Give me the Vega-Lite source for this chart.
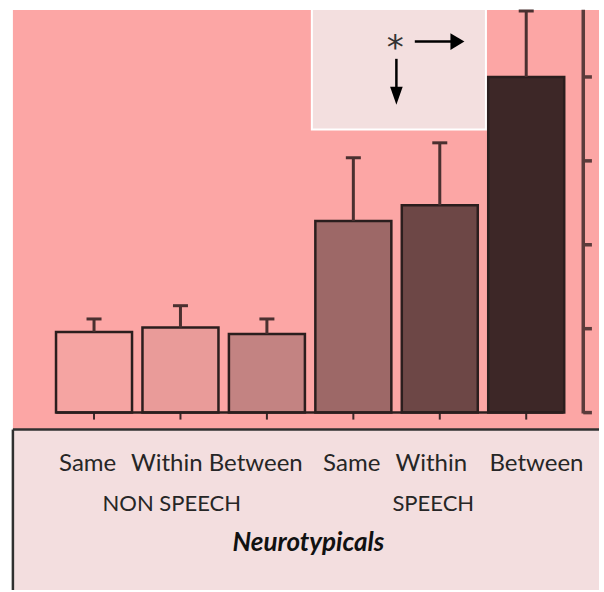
{
  "$schema": "https://vega.github.io/schema/vega-lite/v6.json",
  "width": 604,
  "height": 592,
  "autosize": {"type": "fit", "contains": "padding"},
  "padding": 0,
  "background": "white",
  "view": {"stroke": null},
  "config": {"font": "Lato"},
  "resolve": {"scale": {"fill": "independent", "stroke": "independent"}},
  "datasets": {
    "bars": [
      {"group": "NON SPEECH", "cond": "Same", "id": "NS-Same", "pos": 1, "mean": 0.962, "upper": 1.116},
      {"group": "NON SPEECH", "cond": "Within", "id": "NS-Within", "pos": 2, "mean": 1.013, "upper": 1.274},
      {"group": "NON SPEECH", "cond": "Between", "id": "NS-Between", "pos": 3, "mean": 0.938, "upper": 1.116},
      {"group": "SPEECH", "cond": "Same", "id": "S-Same", "pos": 4, "mean": 2.284, "upper": 3.037},
      {"group": "SPEECH", "cond": "Within", "id": "S-Within", "pos": 5, "mean": 2.47, "upper": 3.215},
      {"group": "SPEECH", "cond": "Between", "id": "S-Between", "pos": 6, "mean": 3.999, "upper": 4.786}
    ],
    "labels": [
      {"text": "Same", "level": "cond", "x": 0.926, "y": -0.701},
      {"text": "Within", "level": "cond", "x": 1.842, "y": -0.701},
      {"text": "Between", "level": "cond", "x": 2.871, "y": -0.701},
      {"text": "Same", "level": "cond", "x": 3.981, "y": -0.701},
      {"text": "Within", "level": "cond", "x": 4.902, "y": -0.701},
      {"text": "Between", "level": "cond", "x": 6.119, "y": -0.701},
      {"text": "NON SPEECH", "level": "group", "x": 1.899, "y": -1.176},
      {"text": "SPEECH", "level": "group", "x": 4.925, "y": -1.176},
      {"text": "Neurotypicals", "level": "title", "x": 3.48, "y": -1.651}
    ],
    "panels": [
      {"part": "plot", "x": 0.0614, "x2": 6.842, "y": -0.202, "y2": 4.798},
      {"part": "labels", "x": 0.0614, "x2": 6.842, "y": -2.114, "y2": -0.202},
      {"part": "inset", "x": 3.52, "x2": 5.534, "y": 3.373, "y2": 4.81}
    ],
    "frame": [
      {"part": "border", "x": 0.0614, "x2": 6.842, "y": -0.202, "y2": -0.202},
      {"part": "border", "x": 0.0614, "x2": 0.0614, "y": -0.202, "y2": -2.114},
      {"part": "axis", "x": 6.66, "x2": 6.66, "y": -0.01, "y2": 4.8},
      {"part": "axis", "x": 6.66, "x2": 6.76, "y": 0, "y2": 0},
      {"part": "axis", "x": 6.66, "x2": 6.76, "y": 1, "y2": 1},
      {"part": "axis", "x": 6.66, "x2": 6.76, "y": 2, "y2": 2},
      {"part": "axis", "x": 6.66, "x2": 6.76, "y": 3, "y2": 3},
      {"part": "axis", "x": 6.66, "x2": 6.76, "y": 4, "y2": 4},
      {"part": "baseline", "x": 0.562, "x2": 6.432, "y": 0, "y2": 0}
    ],
    "arrows": [
      {"dir": "right", "x": 4.711, "x2": 5.17, "y": 4.422, "y2": 4.422},
      {"dir": "down", "x": 4.498, "x2": 4.498, "y": 4.216, "y2": 3.741}
    ],
    "heads": [
      {"dir": "right", "x": 5.204, "y": 4.422},
      {"dir": "down", "x": 4.498, "y": 3.777}
    ],
    "star": [{"text": "*", "x": 4.484, "y": 4.216}]
  },
  "layer": [
    {
      "data": {"name": "panels"},
      "mark": {"type": "rect"},
      "encoding": {
        "x": {"field": "x", "type": "quantitative", "scale": {"domain": [-0.03, 6.842], "nice": false, "zero": false}, "axis": null},
        "x2": {"field": "x2"},
        "y": {"field": "y", "type": "quantitative", "scale": {"domain": [-2.114, 4.917], "nice": false, "zero": false}, "axis": null},
        "y2": {"field": "y2"},
        "fill": {"field": "part", "type": "nominal", "scale": {"domain": ["plot", "labels", "inset"], "range": ["#fca6a5", "#f3dedf", "#f3dfdf"]}, "legend": null},
        "stroke": {"condition": {"test": "datum.part === 'inset'", "value": "#ffffff"}, "value": null},
        "strokeWidth": {"value": 2}
      }
    },
    {
      "data": {"name": "frame"},
      "transform": [{"filter": "datum.part === 'border'"}],
      "mark": {"type": "rule", "stroke": "#303030", "strokeWidth": 2.5},
      "encoding": {
        "x": {"field": "x", "type": "quantitative", "scale": {"domain": [-0.03, 6.842], "nice": false, "zero": false}, "axis": null},
        "x2": {"field": "x2"},
        "y": {"field": "y", "type": "quantitative", "scale": {"domain": [-2.114, 4.917], "nice": false, "zero": false}, "axis": null},
        "y2": {"field": "y2"}
      }
    },
    {
      "data": {"name": "frame"},
      "transform": [{"filter": "datum.part === 'axis'"}],
      "mark": {"type": "rule", "stroke": "#5b3b3b", "strokeWidth": 3.5},
      "encoding": {
        "x": {"field": "x", "type": "quantitative", "scale": {"domain": [-0.03, 6.842], "nice": false, "zero": false}, "axis": null},
        "x2": {"field": "x2"},
        "y": {"field": "y", "type": "quantitative", "scale": {"domain": [-2.114, 4.917], "nice": false, "zero": false}, "axis": null},
        "y2": {"field": "y2"}
      }
    },
    {
      "data": {"name": "bars"},
      "mark": {"type": "rule", "stroke": "#3a2828", "strokeWidth": 2},
      "encoding": {
        "x": {"field": "pos", "type": "quantitative", "scale": {"domain": [-0.03, 6.842], "nice": false, "zero": false}, "axis": null},
        "y": {"datum": 0, "type": "quantitative", "scale": {"domain": [-2.114, 4.917], "nice": false, "zero": false}, "axis": null},
        "y2": {"datum": -0.083}
      }
    },
    {
      "data": {"name": "bars"},
      "mark": {"type": "bar", "width": 76, "stroke": "#2b1e1e", "strokeWidth": 2.5},
      "encoding": {
        "x": {"field": "pos", "type": "quantitative", "scale": {"domain": [-0.03, 6.842], "nice": false, "zero": false}, "axis": null},
        "y": {"field": "mean", "type": "quantitative", "scale": {"domain": [-2.114, 4.917], "nice": false, "zero": false}, "axis": null},
        "y2": {"datum": 0},
        "fill": {"field": "id", "type": "nominal", "scale": {"domain": ["NS-Same", "NS-Within", "NS-Between", "S-Same", "S-Within", "S-Between"], "range": ["#f5a4a2", "#e99b99", "#c38382", "#9d6867", "#6d4746", "#3d2727"]}, "legend": null}
      }
    },
    {
      "data": {"name": "frame"},
      "transform": [{"filter": "datum.part === 'baseline'"}],
      "mark": {"type": "rule", "stroke": "#2b1e1e", "strokeWidth": 2.5},
      "encoding": {
        "x": {"field": "x", "type": "quantitative", "scale": {"domain": [-0.03, 6.842], "nice": false, "zero": false}, "axis": null},
        "x2": {"field": "x2"},
        "y": {"field": "y", "type": "quantitative", "scale": {"domain": [-2.114, 4.917], "nice": false, "zero": false}, "axis": null}
      }
    },
    {
      "data": {"name": "bars"},
      "mark": {"type": "rule", "stroke": "#4a3030", "strokeWidth": 3},
      "encoding": {
        "x": {"field": "pos", "type": "quantitative", "scale": {"domain": [-0.03, 6.842], "nice": false, "zero": false}, "axis": null},
        "y": {"field": "mean", "type": "quantitative", "scale": {"domain": [-2.114, 4.917], "nice": false, "zero": false}, "axis": null},
        "y2": {"field": "upper"}
      }
    },
    {
      "data": {"name": "bars"},
      "mark": {"type": "tick", "orient": "horizontal", "size": 15, "thickness": 3, "color": "#4a3030", "opacity": 1},
      "encoding": {
        "x": {"field": "pos", "type": "quantitative", "scale": {"domain": [-0.03, 6.842], "nice": false, "zero": false}, "axis": null},
        "y": {"field": "upper", "type": "quantitative", "scale": {"domain": [-2.114, 4.917], "nice": false, "zero": false}, "axis": null}
      }
    },
    {
      "data": {"name": "arrows"},
      "mark": {"type": "rule", "stroke": "#000000", "strokeWidth": 2.5},
      "encoding": {
        "x": {"field": "x", "type": "quantitative", "scale": {"domain": [-0.03, 6.842], "nice": false, "zero": false}, "axis": null},
        "x2": {"field": "x2"},
        "y": {"field": "y", "type": "quantitative", "scale": {"domain": [-2.114, 4.917], "nice": false, "zero": false}, "axis": null},
        "y2": {"field": "y2"}
      }
    },
    {
      "data": {"name": "heads"},
      "transform": [{"filter": "datum.dir === 'right'"}],
      "mark": {"type": "point", "shape": "M-1,-1.2L1,0L-1,1.2Z", "size": 196, "filled": true, "color": "#000000", "opacity": 1},
      "encoding": {
        "x": {"field": "x", "type": "quantitative", "scale": {"domain": [-0.03, 6.842], "nice": false, "zero": false}, "axis": null},
        "y": {"field": "y", "type": "quantitative", "scale": {"domain": [-2.114, 4.917], "nice": false, "zero": false}, "axis": null}
      }
    },
    {
      "data": {"name": "heads"},
      "transform": [{"filter": "datum.dir === 'down'"}],
      "mark": {"type": "point", "shape": "M-0.7,-1L0.7,-1L0,1Z", "size": 324, "filled": true, "color": "#000000", "opacity": 1},
      "encoding": {
        "x": {"field": "x", "type": "quantitative", "scale": {"domain": [-0.03, 6.842], "nice": false, "zero": false}, "axis": null},
        "y": {"field": "y", "type": "quantitative", "scale": {"domain": [-2.114, 4.917], "nice": false, "zero": false}, "axis": null}
      }
    },
    {
      "data": {"name": "star"},
      "mark": {"type": "text", "font": "DejaVu Sans", "fontSize": 34, "align": "center", "baseline": "alphabetic", "color": "#333333"},
      "encoding": {
        "x": {"field": "x", "type": "quantitative", "scale": {"domain": [-0.03, 6.842], "nice": false, "zero": false}, "axis": null},
        "y": {"field": "y", "type": "quantitative", "scale": {"domain": [-2.114, 4.917], "nice": false, "zero": false}, "axis": null},
        "text": {"field": "text"}
      }
    },
    {
      "data": {"name": "labels"},
      "transform": [{"filter": "datum.level !== 'title'"}],
      "mark": {"type": "text", "font": "Lato", "align": "center", "baseline": "alphabetic", "color": "#262626"},
      "encoding": {
        "x": {"field": "x", "type": "quantitative", "scale": {"domain": [-0.03, 6.842], "nice": false, "zero": false}, "axis": null},
        "y": {"field": "y", "type": "quantitative", "scale": {"domain": [-2.114, 4.917], "nice": false, "zero": false}, "axis": null},
        "text": {"field": "text"},
        "size": {"condition": {"test": "datum.level === 'group'", "value": 22}, "value": 24}
      }
    },
    {
      "data": {"name": "labels"},
      "transform": [{"filter": "datum.level === 'title'"}],
      "mark": {"type": "text", "font": "Lato", "fontSize": 26, "fontWeight": "bold", "fontStyle": "italic", "align": "center", "baseline": "alphabetic", "color": "#111111"},
      "encoding": {
        "x": {"field": "x", "type": "quantitative", "scale": {"domain": [-0.03, 6.842], "nice": false, "zero": false}, "axis": null},
        "y": {"field": "y", "type": "quantitative", "scale": {"domain": [-2.114, 4.917], "nice": false, "zero": false}, "axis": null},
        "text": {"field": "text"}
      }
    }
  ]
}
